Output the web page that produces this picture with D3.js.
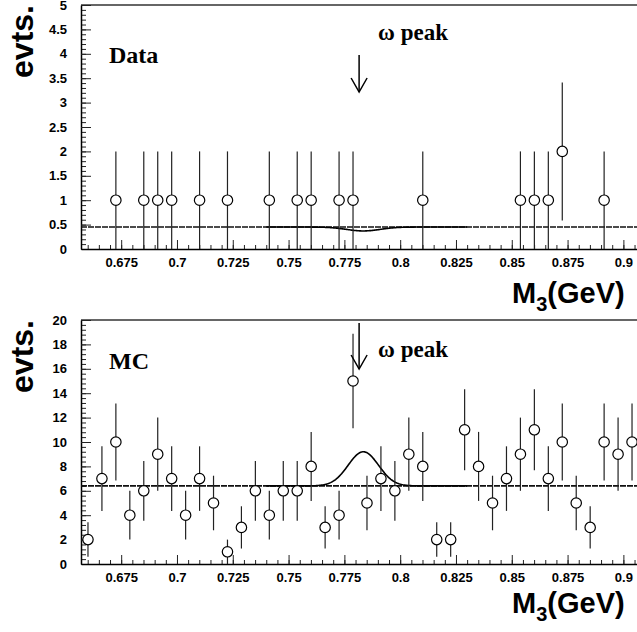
<!DOCTYPE html>
<html>
<head>
<meta charset="utf-8">
<script src="https://cdn.jsdelivr.net/npm/d3@7"></script>
<style>
  html, body { margin: 0; padding: 0; background: #fff; }
  svg { display: block; }
</style>
</head>
<body>
<svg id="chart" width="637" height="632"></svg>
<script>
// Histogram binning of the three-pion invariant mass M3
const binLow = 0.657;
const binWidth = 0.00625;
const nBins = 40;

// Event counts per bin (empty bins are not drawn)
const dataCounts = [0,0,1,0,1,1,1,0,1,0,1,0,0,1,0,1,1,0,1,1,0,0,0,0,1,0,0,0,0,0,0,1,1,1,2,0,0,1,0,0];
const mcCounts   = [2,7,10,4,6,9,7,4,7,5,1,3,6,4,6,6,8,3,4,15,5,7,6,9,8,2,2,11,8,5,7,9,11,7,10,5,3,10,9,10];

// Fit: flat background plus a Gaussian at the omega mass
const dataFit = { bkg: 0.45, amp: -0.08, mean: 0.7835, sigma: 0.0075 };
const mcFit   = { bkg: 6.4,  amp: 2.8,   mean: 0.7835, sigma: 0.0068 };
const fitRange = [0.74, 0.83];

// Axis ticks
const xTicks = [0.675, 0.7, 0.725, 0.75, 0.775, 0.8, 0.825, 0.85, 0.875, 0.9];
const dataYTicks = [0, 0.5, 1, 1.5, 2, 2.5, 3, 3.5, 4, 4.5, 5];
const mcYTicks = [0, 2, 4, 6, 8, 10, 12, 14, 16, 18, 20];

const omegaMass = 0.7816;

const svg = d3.select("#chart");
const sans = "'Liberation Sans', Arial, Helvetica, sans-serif";
const serif = "'Liberation Serif', 'Times New Roman', serif";

const x = d3.scaleLinear().domain([0.657, 0.907]).range([81, 639]);

function panel(opts) {
  const { top, bottom, yMax, yTicks, yMinorStep, counts, fit, title, arrowTop, arrowBottom, peakLabelY, titleY, m3Y } = opts;
  const g = svg.append("g");
  const y = d3.scaleLinear().domain([0, yMax]).range([bottom, top]);

  // frame top edge
  g.append("line")
    .attr("x1", x.range()[0]).attr("x2", 640)
    .attr("y1", top).attr("y2", top)
    .attr("stroke", "#666").attr("stroke-width", 2);

  // minor y ticks
  const yMinor = d3.range(0, yMax + 1e-9, yMinorStep);
  g.append("g")
    .attr("transform", `translate(${x.range()[0]},0)`)
    .call(d3.axisLeft(y).tickValues(yMinor).tickSize(-5).tickFormat(""))
    .call(a => a.select(".domain").remove())
    .call(a => a.selectAll("line").attr("stroke", "#222"));

  // major y ticks and labels
  g.append("g")
    .attr("transform", `translate(${x.range()[0]},0)`)
    .call(d3.axisLeft(y).tickValues(yTicks).tickSizeInner(-10).tickSizeOuter(0).tickPadding(14).tickFormat(d => String(d)))
    .call(a => a.select(".domain").attr("stroke", "#000").attr("stroke-width", 1.5))
    .call(a => a.selectAll("line").attr("stroke", "#222"))
    .call(a => a.selectAll("text")
      .attr("font-family", sans).attr("font-weight", "bold").attr("font-size", 13).attr("fill", "#000"));

  // minor x ticks
  const xMinor = d3.range(0, 51).map(i => 0.66 + i * 0.005).filter(v => v <= 0.907);
  g.append("g")
    .attr("transform", `translate(0,${bottom})`)
    .call(d3.axisBottom(x).tickValues(xMinor).tickSize(-4).tickFormat(""))
    .call(a => a.select(".domain").remove())
    .call(a => a.selectAll("line").attr("stroke", "#222"));

  // major x ticks and labels
  g.append("g")
    .attr("transform", `translate(0,${bottom})`)
    .call(d3.axisBottom(x).tickValues(xTicks).tickSizeInner(-9).tickSizeOuter(0).tickPadding(9).tickFormat(d => String(d)))
    .call(a => a.select(".domain").attr("stroke", "#000").attr("stroke-width", 1.5))
    .call(a => a.selectAll("line").attr("stroke", "#222"))
    .call(a => a.selectAll("text")
      .attr("font-family", sans).attr("font-weight", "bold").attr("font-size", 13).attr("fill", "#000"));

  // fit: dashed background over full range, solid fit curve near the peak
  const fitFn = m => fit.bkg + fit.amp * Math.exp(-0.5 * Math.pow((m - fit.mean) / fit.sigma, 2));
  g.append("line")
    .attr("x1", x.range()[0]).attr("x2", 640)
    .attr("y1", y(fit.bkg)).attr("y2", y(fit.bkg))
    .attr("stroke", "#111").attr("stroke-width", 1.6)
    .attr("stroke-dasharray", "6,1");
  const curvePts = d3.range(0, 201).map(i => {
    const m = fitRange[0] + (fitRange[1] - fitRange[0]) * i / 200;
    return [m, fitFn(m)];
  });
  g.append("path")
    .datum(curvePts)
    .attr("d", d3.line().x(d => x(d[0])).y(d => y(d[1])))
    .attr("fill", "none").attr("stroke", "#000").attr("stroke-width", 1.6);

  // histogram points with Poisson error bars
  const pts = counts.map((c, i) => ({ m: binLow + (i + 0.5) * binWidth, n: c })).filter(d => d.n > 0);
  g.selectAll(".err").data(pts).enter().append("line")
    .attr("x1", d => x(d.m)).attr("x2", d => x(d.m))
    .attr("y1", d => y(d.n + Math.sqrt(d.n)))
    .attr("y2", d => y(Math.max(0, d.n - Math.sqrt(d.n))))
    .attr("stroke", "#222").attr("stroke-width", 1.2);
  g.selectAll(".pt").data(pts).enter().append("circle")
    .attr("cx", d => x(d.m)).attr("cy", d => y(d.n))
    .attr("r", 5.2)
    .attr("fill", "#fff").attr("stroke", "#000").attr("stroke-width", 1.2);

  // omega peak arrow
  const ax = x(omegaMass);
  g.append("line").attr("x1", ax).attr("x2", ax).attr("y1", arrowTop).attr("y2", arrowBottom)
    .attr("stroke", "#000").attr("stroke-width", 1.5);
  g.append("path")
    .attr("d", `M${ax - 8},${arrowBottom - 14}L${ax},${arrowBottom}L${ax + 8},${arrowBottom - 14}`)
    .attr("fill", "none").attr("stroke", "#000").attr("stroke-width", 1.5);
  g.append("text").attr("x", ax + 19).attr("y", peakLabelY)
    .attr("font-family", serif).attr("font-weight", "bold").attr("font-size", 23)
    .text("ω peak");

  // panel title
  g.append("text").attr("x", 109).attr("y", titleY)
    .attr("font-family", serif).attr("font-weight", "bold").attr("font-size", 24)
    .text(title);

  // axis titles
  g.append("text")
    .attr("transform", `translate(33,${top}) rotate(-90)`)
    .attr("text-anchor", "end")
    .attr("font-family", sans).attr("font-weight", "bold").attr("font-size", 32)
    .text("evts.");

  const m3 = g.append("text").attr("x", 512).attr("y", m3Y)
    .attr("font-family", sans).attr("font-weight", "bold").attr("font-size", 29);
  m3.append("tspan").text("M");
  m3.append("tspan").attr("font-size", 20).attr("dy", 8).text("3");
  m3.append("tspan").attr("dy", -8).text("(GeV)");
}

panel({
  top: 5, bottom: 249, yMax: 5, yTicks: dataYTicks, yMinorStep: 0.1,
  counts: dataCounts, fit: dataFit, title: "Data",
  arrowTop: 55, arrowBottom: 92, peakLabelY: 40, titleY: 63, m3Y: 303
});

panel({
  top: 320, bottom: 564, yMax: 20, yTicks: mcYTicks, yMinorStep: 0.4,
  counts: mcCounts, fit: mcFit, title: "MC",
  arrowTop: 323, arrowBottom: 369, peakLabelY: 357, titleY: 369, m3Y: 613
});
</script>
</body>
</html>
